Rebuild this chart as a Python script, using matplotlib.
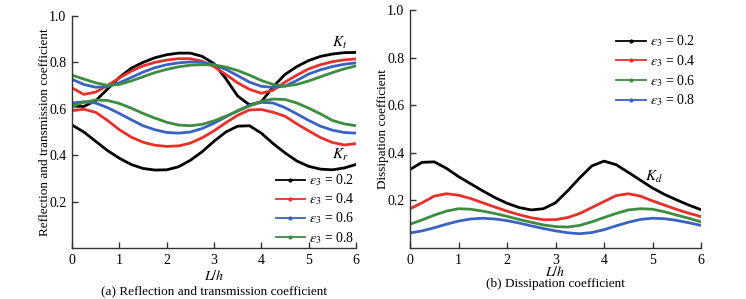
import matplotlib
matplotlib.use("Agg")
import matplotlib.pyplot as plt
from matplotlib.lines import Line2D

plt.rcParams['font.family'] = ['Liberation Serif', 'DejaVu Serif']
plt.rcParams['mathtext.fontset'] = 'stix'

x = [0, 0.25, 0.5, 0.75, 1.0, 1.25, 1.5, 1.75, 2.0, 2.25, 2.5, 2.75, 3.0,
     3.25, 3.5, 3.75, 4.0, 4.25, 4.5, 4.75, 5.0, 5.25, 5.5, 5.75, 6.0]

eps_labels = ['0.2', '0.4', '0.6', '0.8']

# Panel (a): transmission Kt
kt_02 = [0.612, 0.610, 0.635, 0.685, 0.735, 0.775, 0.800, 0.820, 0.833, 0.840, 0.840, 0.826, 0.795,
         0.730, 0.655, 0.617, 0.630, 0.695, 0.748, 0.782, 0.808, 0.826, 0.836, 0.842, 0.843]
kt_04 = [0.690, 0.662, 0.672, 0.700, 0.733, 0.762, 0.785, 0.800, 0.810, 0.816, 0.816, 0.805, 0.782,
         0.748, 0.712, 0.684, 0.667, 0.680, 0.715, 0.745, 0.772, 0.790, 0.803, 0.811, 0.815]
kt_06 = [0.727, 0.705, 0.693, 0.695, 0.712, 0.735, 0.758, 0.777, 0.790, 0.798, 0.802, 0.800, 0.790,
         0.770, 0.743, 0.715, 0.697, 0.692, 0.698, 0.722, 0.750, 0.768, 0.782, 0.792, 0.798]
kt_08 = [0.745, 0.728, 0.712, 0.701, 0.705, 0.720, 0.738, 0.756, 0.770, 0.781, 0.788, 0.790, 0.789,
         0.780, 0.765, 0.745, 0.722, 0.705, 0.698, 0.705, 0.720, 0.738, 0.756, 0.772, 0.785]

# Panel (a): reflection Kr
kr_02 = [0.530, 0.500, 0.460, 0.420, 0.387, 0.360, 0.343, 0.336, 0.337, 0.350, 0.378, 0.415, 0.460,
         0.500, 0.525, 0.527, 0.495, 0.450, 0.410, 0.375, 0.352, 0.340, 0.337, 0.345, 0.360]
kr_04 = [0.592, 0.598, 0.585, 0.550, 0.510, 0.478, 0.456, 0.443, 0.438, 0.440, 0.452, 0.475, 0.505,
         0.540, 0.572, 0.595, 0.597, 0.585, 0.568, 0.535, 0.505, 0.476, 0.455, 0.444, 0.450]
kr_06 = [0.625, 0.630, 0.625, 0.605, 0.580, 0.553, 0.527, 0.510, 0.498, 0.495, 0.500, 0.515, 0.538,
         0.565, 0.592, 0.615, 0.628, 0.625, 0.605, 0.578, 0.550, 0.525, 0.508, 0.498, 0.495]
kr_08 = [0.610, 0.628, 0.638, 0.636, 0.623, 0.603, 0.580, 0.560, 0.542, 0.530, 0.527, 0.533, 0.548,
         0.568, 0.590, 0.612, 0.632, 0.642, 0.640, 0.625, 0.603, 0.578, 0.550, 0.535, 0.527]

# Panel (b): dissipation Kd
kd_02 = [0.330, 0.360, 0.362, 0.335, 0.300, 0.270, 0.240, 0.212, 0.188, 0.170, 0.160, 0.165, 0.190,
         0.240, 0.295, 0.345, 0.365, 0.350, 0.318, 0.285, 0.252, 0.225, 0.202, 0.180, 0.161]
kd_04 = [0.165, 0.190, 0.218, 0.228, 0.222, 0.208, 0.190, 0.172, 0.155, 0.140, 0.127, 0.119, 0.119,
         0.128, 0.145, 0.170, 0.195, 0.220, 0.228, 0.218, 0.198, 0.180, 0.162, 0.146, 0.132]
kd_06 = [0.100, 0.118, 0.138, 0.155, 0.165, 0.163, 0.155, 0.145, 0.133, 0.120, 0.108, 0.097, 0.090,
         0.088, 0.095, 0.110, 0.128, 0.145, 0.160, 0.165, 0.163, 0.152, 0.138, 0.125, 0.110]
kd_08 = [0.063, 0.072, 0.085, 0.100, 0.113, 0.122, 0.125, 0.122, 0.115, 0.105, 0.093, 0.082, 0.072,
         0.064, 0.060, 0.065, 0.077, 0.093, 0.108, 0.120, 0.125, 0.123, 0.116, 0.106, 0.095]

BLACK = '#000000'
RED = '#e8302a'
BLUE = '#3a62c4'
GREEN = '#3d8c40'

colors_a = [BLACK, RED, BLUE, GREEN]
colors_b = [BLACK, RED, GREEN, BLUE]

fig = plt.figure(figsize=(7.46, 2.99), dpi=100)
W, H = 746, 299
axa = fig.add_axes([72 / W, (H - 248) / H, (356 - 72) / W, (248 - 16) / H])
axb = fig.add_axes([410 / W, (H - 248) / H, (701 - 410) / W, (248 - 10) / H])

LW = 2.0
kw = dict(lw=LW, solid_joinstyle='round', solid_capstyle='round')
for ys, c in zip([kt_02, kt_04, kt_06, kt_08], colors_a):
    axa.plot(x, ys, color=c, **kw)
for ys, c in zip([kr_02, kr_04, kr_06, kr_08], colors_a):
    axa.plot(x, ys, color=c, **kw)
for ys, c in zip([kd_02, kd_04, kd_06, kd_08], colors_b):
    axb.plot(x, ys, color=c, **kw)

for ax in (axa, axb):
    ax.set_xlim(0, 6)
    ax.set_ylim(0, 1.0)
    ax.set_xticks([0, 1, 2, 3, 4, 5, 6])
    ax.set_yticks([0.2, 0.4, 0.6, 0.8, 1.0])
    ax.set_yticklabels(['0.2', '0.4', '0.6', '0.8', '1.0'])
    ax.spines['top'].set_visible(False)
    ax.spines['right'].set_visible(False)
    for s in ('left', 'bottom'):
        ax.spines[s].set_color('#333333')
        ax.spines[s].set_linewidth(1.0)
    ax.tick_params(direction='in', length=4, width=1.0, color='#333333',
                   labelsize=10, pad=4)

axa.set_xlabel('$L/h$', fontsize=10, labelpad=2)
axb.set_xlabel('$L/h$', fontsize=10, labelpad=-1)

axa.set_ylabel('Reflection and transmission coefficient', fontsize=9.5, labelpad=-1)
axb.set_ylabel('Dissipation coefficient', fontsize=9.5, labelpad=-1)

axa.text(5.66, 0.885, '$K_t$', fontsize=11, ha='center', va='center')
axa.text(5.66, 0.40, '$K_r$', fontsize=11, ha='center', va='center')
axb.text(5.03, 0.30, '$K_d$', fontsize=11, ha='center', va='center')

fig.text(214 / W, 1 - 291 / H, '(a) Reflection and transmission coefficient',
         fontsize=9.5, ha='center', va='center')
fig.text(555 / W, 1 - 284 / H, '(b) Dissipation coefficient',
         fontsize=9.5, ha='center', va='center')

def handles(cols):
    return [Line2D([], [], color=c, lw=1.3, marker='o', ms=2) for c in cols]

labels = [r'$\varepsilon_3$ = ' + v for v in eps_labels]
axa.legend(handles(colors_a), labels, loc='center right', bbox_to_anchor=(1.0, 0.168),
           frameon=False, fontsize=10, handlelength=2.1, handletextpad=0.3,
           labelspacing=0.24, borderpad=0.1, borderaxespad=0.0)
axb.legend(handles(colors_b), labels, loc='center right', bbox_to_anchor=(0.985, 0.744),
           frameon=False, fontsize=10, handlelength=2.1, handletextpad=0.3,
           labelspacing=0.28, borderpad=0.1, borderaxespad=0.0)

fig.savefig('out.png', dpi=100)
